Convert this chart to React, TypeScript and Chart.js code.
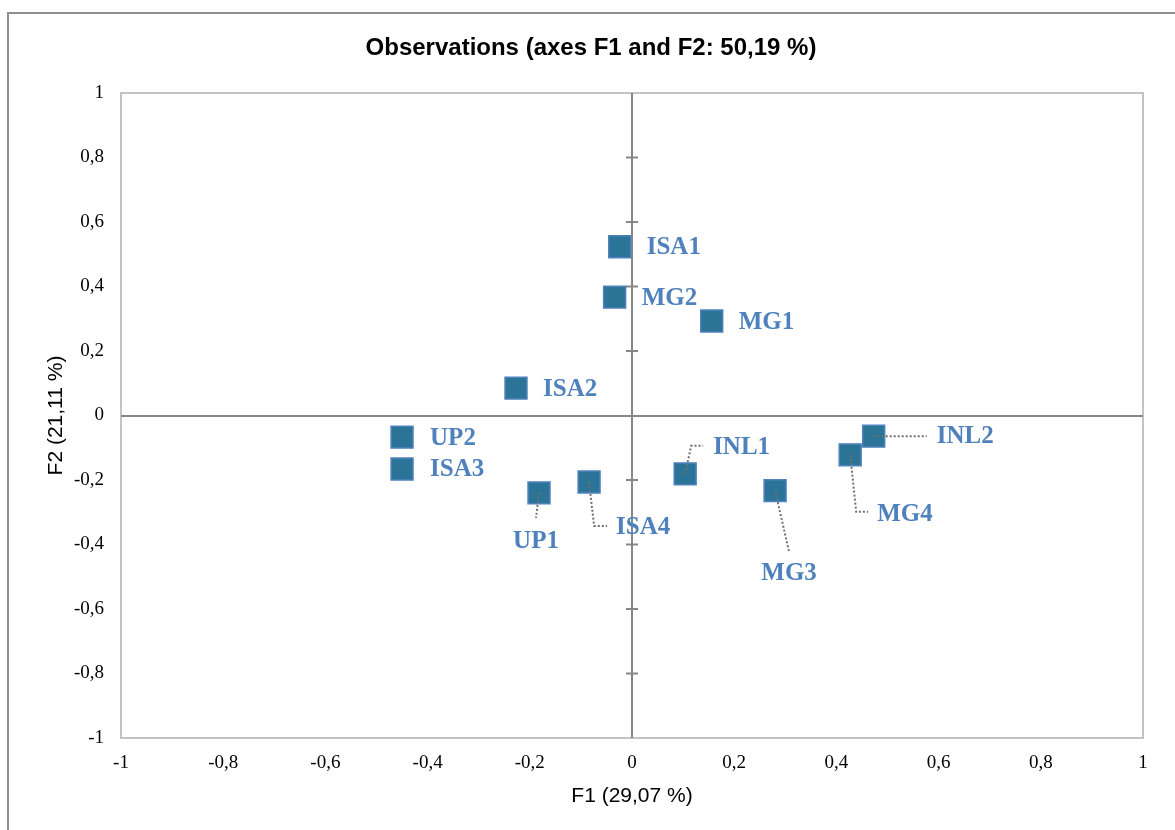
import React, { useEffect, useRef } from "react";
import { Chart, registerables } from "chart.js";

Chart.register(...registerables);

// Observation scores on the first two factorial axes
const observationNames = ["ISA1", "MG2", "MG1", "ISA2", "UP2", "ISA3", "UP1", "ISA4", "INL1", "MG3", "MG4", "INL2"];
const f1Scores = [-0.024, -0.034, 0.156, -0.227, -0.45, -0.45, -0.182, -0.084, 0.104, 0.28, 0.427, 0.473];
const f2Scores = [0.523, 0.367, 0.293, 0.085, -0.067, -0.166, -0.24, -0.206, -0.181, -0.233, -0.122, -0.064];

const chartTitle = "Observations (axes F1 and F2: 50,19 %)";
const xAxisTitle = "F1 (29,07 %)";
const yAxisTitle = "F2 (21,11 %)";
const axisMin = -1;
const axisMax = 1;
const axisStep = 0.2;

// Label placement relative to each marker (pixels), with optional dotted leader path
type LabelPlacement = { dx: number; dy: number; align: CanvasTextAlign; leader?: number[][] };
const labelPlacements: LabelPlacement[] = [
  { dx: 27, dy: 1, align: "left" },
  { dx: 27, dy: 1, align: "left" },
  { dx: 27, dy: 2, align: "left" },
  { dx: 27, dy: 1, align: "left" },
  { dx: 28, dy: 1, align: "left" },
  { dx: 28, dy: 1, align: "left" },
  { dx: -3, dy: 49, align: "center", leader: [[0, 0], [-3, 25]] },
  { dx: 27, dy: 46, align: "left", leader: [[0, 0], [5, 44], [18, 44]] },
  { dx: 28, dy: -26, align: "left", leader: [[0, 0], [6, -28], [18, -28]] },
  { dx: 14, dy: 83, align: "center", leader: [[0, 0], [14, 61]] },
  { dx: 27, dy: 60, align: "left", leader: [[0, 0], [6, 57], [18, 57]] },
  { dx: 63, dy: 0, align: "left", leader: [[0, 0], [53, 0]] },
];

const formatTick = (v: number | string) => {
  const n = Math.round(Number(v) * 10) / 10;
  return String(n).replace(".", ",");
};

const isZero = (v: number) => Math.abs(v) < 1e-9;

const decorPlugin = {
  id: "pcaDecor",
  beforeDraw(chart: any) {
    const { ctx, chartArea } = chart;
    ctx.save();
    // outer frame (left and top edges visible)
    ctx.strokeStyle = "#8f8f8f";
    ctx.lineWidth = 2;
    ctx.beginPath();
    ctx.moveTo(8, 2000);
    ctx.lineTo(8, 13);
    ctx.lineTo(2000, 13);
    ctx.stroke();
    // plot area box
    ctx.strokeStyle = "#c3c3c3";
    ctx.lineWidth = 2;
    ctx.strokeRect(chartArea.left, chartArea.top, chartArea.right - chartArea.left, chartArea.bottom - chartArea.top);
    ctx.restore();
  },
  beforeDatasetsDraw(chart: any) {
    const { ctx } = chart;
    const xs = chart.scales.x;
    const ys = chart.scales.y;
    const x0 = xs.getPixelForValue(0);
    ctx.save();
    ctx.strokeStyle = "#878787";
    ctx.lineWidth = 2;
    ys.ticks.forEach((t: any) => {
      if (isZero(t.value) || Math.abs(t.value) >= 1) return;
      const py = ys.getPixelForValue(t.value);
      ctx.beginPath();
      ctx.moveTo(x0 - 6, py);
      ctx.lineTo(x0 + 6, py);
      ctx.stroke();
    });
    ctx.restore();
  },
  afterDatasetsDraw(chart: any) {
    const { ctx } = chart;
    const meta = chart.getDatasetMeta(0);
    ctx.save();
    meta.data.forEach((pt: any, i: number) => {
      const p = labelPlacements[i];
      if (p.leader) {
        ctx.strokeStyle = "#707070";
        ctx.lineWidth = 2;
        ctx.setLineDash([2, 2]);
        ctx.beginPath();
        p.leader.forEach((q, k) => {
          if (k === 0) ctx.moveTo(pt.x + q[0], pt.y + q[1]);
          else ctx.lineTo(pt.x + q[0], pt.y + q[1]);
        });
        ctx.stroke();
        ctx.setLineDash([]);
      }
      ctx.fillStyle = "#4f81bd";
      ctx.font = "bold 25px 'Liberation Serif', 'DejaVu Serif', serif";
      ctx.textAlign = p.align;
      ctx.textBaseline = "middle";
      ctx.fillText(observationNames[i], pt.x + p.dx, pt.y + p.dy);
    });
    ctx.restore();
  },
  afterDraw(chart: any) {
    const { ctx, chartArea } = chart;
    ctx.save();
    ctx.fillStyle = "#000";
    ctx.textAlign = "center";
    ctx.textBaseline = "alphabetic";
    ctx.font = "bold 24px 'Liberation Sans', Arial, sans-serif";
    ctx.fillText(chartTitle, 591, 55);
    ctx.font = "21px 'Liberation Sans', Arial, sans-serif";
    ctx.fillText(xAxisTitle, (chartArea.left + chartArea.right) / 2, 802);
    ctx.translate(62, (chartArea.top + chartArea.bottom) / 2);
    ctx.rotate(-Math.PI / 2);
    ctx.fillText(yAxisTitle, 0, 0);
    ctx.restore();
  },
};

export default function App() {
  const canvasRef = useRef<HTMLCanvasElement | null>(null);

  useEffect(() => {
    if (!canvasRef.current) return;
    const points = f1Scores.map((x, i) => ({ x, y: f2Scores[i] }));
    const tickFont = { family: "'Liberation Serif', 'DejaVu Serif', serif", size: 19 };
    const gridCfg = {
      drawTicks: false,
      lineWidth: 2,
      color: (c: any) => (c.tick && isZero(c.tick.value) ? "#878787" : "rgba(0,0,0,0)"),
    };
    const chart = new Chart(canvasRef.current, {
      type: "scatter",
      data: {
        datasets: [
          {
            label: "Observations",
            data: points,
            pointStyle: "rect",
            pointRadius: 15.5,
            pointHoverRadius: 15.5,
            backgroundColor: "#2c7497",
            borderColor: "#4f81bd",
            borderWidth: 1.5,
          },
        ],
      },
      options: {
        animation: false,
        responsive: false,
        devicePixelRatio: 1,
        layout: { padding: { top: 93, right: 32, bottom: 0, left: 0 } },
        plugins: { legend: { display: false }, title: { display: false }, tooltip: { enabled: false } },
        scales: {
          x: {
            type: "linear",
            min: axisMin,
            max: axisMax,
            border: { display: false },
            grid: gridCfg,
            ticks: { stepSize: axisStep, padding: 14, color: "#000", font: tickFont, callback: formatTick },
            afterFit: (s: any) => {
              s.height = 92;
            },
          },
          y: {
            type: "linear",
            min: axisMin,
            max: axisMax,
            border: { display: false },
            grid: gridCfg,
            ticks: { stepSize: axisStep, padding: 17, color: "#000", font: tickFont, callback: formatTick },
            afterFit: (s: any) => {
              s.width = 121;
            },
          },
        },
      },
      plugins: [decorPlugin],
    });
    return () => chart.destroy();
  }, []);

  return (
    <div style={{ position: "fixed", left: 0, top: 0, width: 1175, height: 830, background: "#fff" }}>
      <canvas ref={canvasRef} width={1175} height={830} style={{ display: "block" }} />
    </div>
  );
}
